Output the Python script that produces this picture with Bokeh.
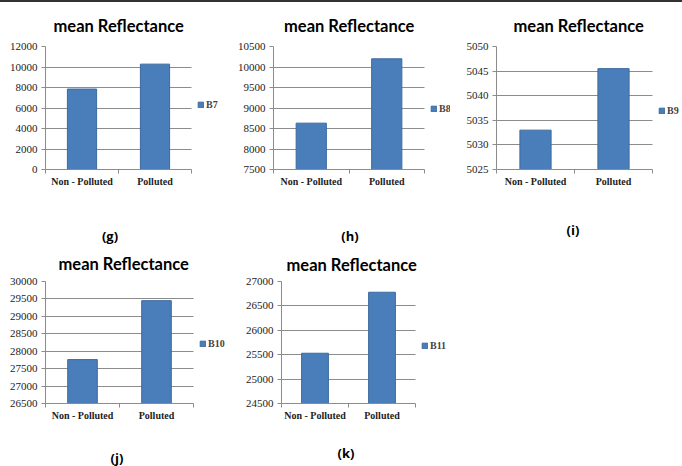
from bokeh.plotting import figure
from bokeh.models import FixedTicker, Legend, LegendItem, Div, Range1d
from bokeh.layouts import column, row
from bokeh.embed import file_html
from bokeh.resources import INLINE

categories = ["Non - Polluted", "Polluted"]
bands = ["B7", "B8", "B9", "B10", "B11"]
panel_labels = ["(g)", "(h)", "(i)", "(j)", "(k)"]
b7 = [7850, 10280]
b8 = [8630, 10200]
b9 = [5033, 5045.5]
b10 = [27760, 29450]
b11 = [25530, 26780]
y_min = [0, 7500, 5025, 26500, 24500]
y_max = [12000, 10500, 5050, 30000, 27000]
y_step = [2000, 500, 5, 500, 500]

BAR = "#4A7EBB"
GRID = "#8c8c8c"


def set_standoff(t, extra):
    if "standoff" in t.properties():
        t.standoff = t.standoff + extra


def make_chart(i, values, width, height, bl, fw, leg_space, bt, fh, top_extra, title_shift):
    n = len(categories)
    x_end = n * (fw + leg_space) / fw
    p = figure(width=width, height=height, output_backend="svg", toolbar_location=None,
               min_border_left=bl, min_border_right=width - bl - fw - leg_space,
               min_border_top=bt, min_border_bottom=height - bt - fh,
               x_range=Range1d(0, x_end), y_range=Range1d(y_min[i], y_max[i]))
    p.outline_line_color = None
    p.title.text = "mean Reflectance"
    p.title.align = "left"
    p.title.offset = fw / 2 - 65 + title_shift
    p.title.text_font = "Lato"
    p.title.text_font_size = "16.5px"
    p.title.text_font_style = "bold"
    p.title.text_color = "black"
    set_standoff(p.title, top_extra)
    xs = [k + 0.5 for k in range(n)]
    r = p.vbar(x=xs, top=values, bottom=y_min[i], width=0.4,
               fill_color=BAR, line_color="#3C6A9E", line_width=1)
    p.xgrid.grid_line_color = None
    p.ygrid.grid_line_color = GRID
    p.ygrid.grid_line_width = 1
    if "cross_bounds" in p.ygrid[0].properties():
        p.ygrid.cross_bounds = (0, n)
    p.yaxis.ticker = FixedTicker(ticks=list(range(int(y_min[i]), int(y_max[i]) + 1, y_step[i])))
    p.yaxis.axis_line_color = GRID
    p.yaxis.major_tick_line_color = GRID
    p.yaxis.major_tick_out = 4
    p.yaxis.major_tick_in = 0
    p.yaxis.minor_tick_line_color = None
    p.yaxis.major_label_text_font = "Liberation Serif"
    p.yaxis.major_label_text_font_size = "11px"
    p.yaxis.major_label_text_color = "#222222"
    p.yaxis.major_label_standoff = 4
    p.xaxis.ticker = FixedTicker(ticks=xs, minor_ticks=list(range(n + 1)))
    p.xaxis.bounds = (0, n)
    p.xaxis.major_label_overrides = {x: c for x, c in zip(xs, categories)}
    p.xaxis.axis_line_color = GRID
    p.xaxis.major_tick_line_color = None
    p.xaxis.major_tick_out = 0
    p.xaxis.minor_tick_line_color = GRID
    p.xaxis.minor_tick_out = 4
    p.xaxis.minor_tick_in = 0
    p.xaxis.major_label_text_font = "Liberation Serif"
    p.xaxis.major_label_text_font_style = "bold"
    p.xaxis.major_label_text_font_size = "10px"
    p.xaxis.major_label_text_color = "#222222"
    p.xaxis.major_label_standoff = 2
    legend = Legend(items=[LegendItem(label=bands[i], renderers=[r])],
                    location=(fw + 6, fh // 2 - 10),
                    glyph_width=7, glyph_height=7, label_standoff=2, padding=0, margin=0,
                    border_line_color=None, background_fill_alpha=0,
                    label_text_font="Liberation Serif", label_text_font_style="bold",
                    label_text_font_size="10px", label_height=10)
    p.add_layout(legend)
    return p


def label_div(text, width, top, total, font="Open Sans"):
    return Div(text=text, width=width, height=16, margin=(top, 0, total - 16 - top, 0),
               styles={"text-align": "center", "font-family": font, "font-weight": "bold",
                       "font-size": "13px", "line-height": "16px", "color": "black"})


pg = make_chart(0, b7, 228, 212, 45, 146, 35, 41, 138, 12, 0)
ph = make_chart(1, b8, 224, 212, 45, 151, 26, 42, 130, 11, 0)
pi = make_chart(2, b9, 230, 212, 44, 156, 28, 41, 126, 12, 4)
pj = make_chart(3, b10, 240, 197, 45, 148, 45, 36, 129, 5, 4)
pk = make_chart(4, b11, 240, 197, 41, 134, 63, 34, 125, 3, 3)

dg = label_div(panel_labels[0], 220, 14, 30)
dh = label_div(panel_labels[1], 260, 14, 30)
di = label_div(panel_labels[2], 186, 8, 30, font="Liberation Sans Narrow, Open Sans")
dj = label_div(panel_labels[3], 234, 9, 25)
dk = label_div(panel_labels[4], 224, 4, 25)

line = Div(width=682, height=2, margin=0, styles={"background-color": "#333333"})
layout = column(line,
                row(pg, ph, pi, spacing=0),
                row(dg, dh, di, spacing=0),
                row(pj, pk, spacing=0),
                row(dj, dk, spacing=0),
                spacing=0)

open("out.html", "w").write(file_html(layout, INLINE))
